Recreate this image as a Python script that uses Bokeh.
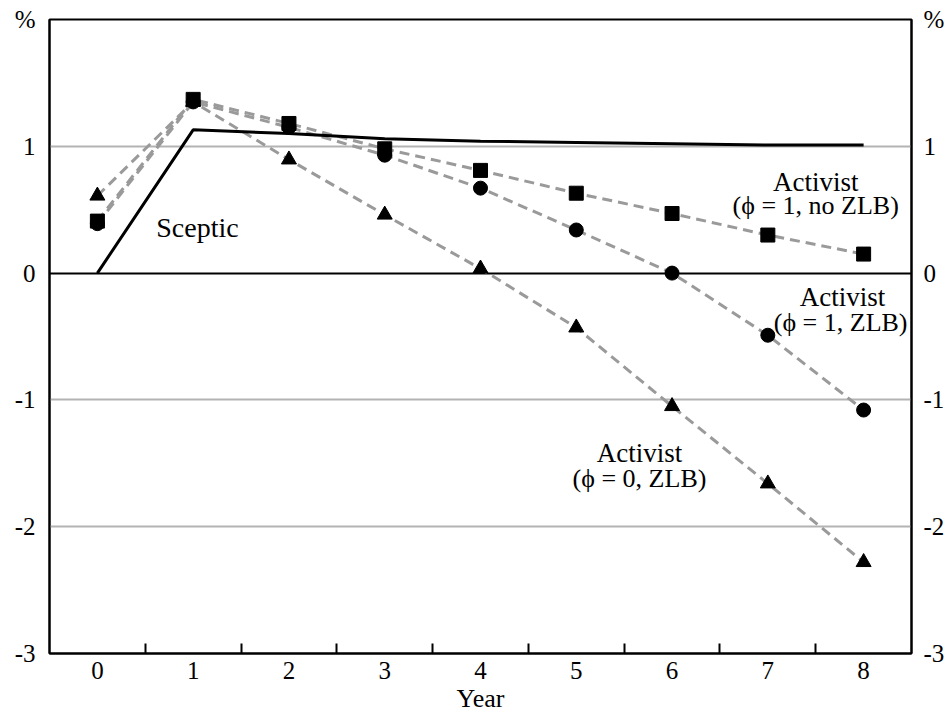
from bokeh.plotting import figure
from bokeh.models import (FixedTicker, LinearAxis, Grid, Label, Range1d)
from bokeh.embed import file_html
from bokeh.resources import INLINE

years = [0, 1, 2, 3, 4, 5, 6, 7, 8]
sceptic = [0.0, 1.13, 1.10, 1.06, 1.04, 1.03, 1.02, 1.01, 1.01]
activist_noZLB = [0.41, 1.37, 1.18, 0.98, 0.81, 0.63, 0.47, 0.30, 0.15]
activist_ZLB = [0.39, 1.35, 1.15, 0.93, 0.67, 0.34, 0.00, -0.49, -1.08]
activist_phi0 = [0.61, 1.35, 0.895, 0.46, 0.035, -0.43, -1.05, -1.66, -2.28]
y_ticks = [-3, -2, -1, 0, 1, 2]
y_tick_labels = ["-3", "-2", "-1", "0", "1", "%"]
x_ticks = [0, 1, 2, 3, 4, 5, 6, 7, 8]
x_minor = [0.5, 1.5, 2.5, 3.5, 4.5, 5.5, 6.5, 7.5]
x_title = "Year"

FONT = "Liberation Serif"

p = figure(width=947, height=715, output_backend="svg", toolbar_location=None,
           x_range=Range1d(-0.5, 8.5), y_range=Range1d(-3, 2),
           x_axis_location=None, y_axis_location=None,
           min_border_left=49, min_border_right=36, min_border_top=19,
           min_border_bottom=61)
p.outline_line_color = "black"
p.outline_line_width = 2
p.outline_line_alpha = 1
p.background_fill_color = "white"
p.border_fill_color = "white"
p.grid.visible = False

def style_y(ax, standoff):
    ax.ticker = FixedTicker(ticks=y_ticks)
    ax.major_label_overrides = {t: s for t, s in zip(y_ticks, y_tick_labels)}
    ax.major_tick_in = 0
    ax.major_tick_out = 0
    ax.minor_tick_in = 0
    ax.minor_tick_out = 0
    ax.axis_line_color = "black"
    ax.axis_line_width = 2
    ax.major_label_text_font = FONT
    ax.major_label_text_font_size = "25px"
    ax.major_label_text_color = "black"
    ax.major_label_standoff = standoff

yl = LinearAxis()
style_y(yl, 14)
p.add_layout(yl, "left")
yr = LinearAxis()
style_y(yr, 12)
p.add_layout(yr, "right")

xa = LinearAxis(axis_label=x_title)
xa.ticker = FixedTicker(ticks=x_ticks, minor_ticks=x_minor)
xa.major_tick_in = 0
xa.major_tick_out = 0
xa.minor_tick_in = 10
xa.minor_tick_out = 0
xa.minor_tick_line_color = "black"
xa.minor_tick_line_width = 2
xa.axis_line_color = "black"
xa.axis_line_width = 2
xa.major_label_text_font = FONT
xa.major_label_text_font_size = "25px"
xa.major_label_text_color = "black"
xa.major_label_standoff = 8
xa.axis_label_text_font = FONT
xa.axis_label_text_font_size = "26px"
xa.axis_label_text_font_style = "normal"
xa.axis_label_text_color = "black"
xa.axis_label_standoff = 2
p.add_layout(xa, "below")

g1 = Grid(dimension=1, ticker=FixedTicker(ticks=[-2, -1, 1]),
          grid_line_color="#b3b3b3", grid_line_width=2)
g0 = Grid(dimension=1, ticker=FixedTicker(ticks=[0]),
          grid_line_color="black", grid_line_width=2)
p.add_layout(g1)
p.add_layout(g0)

dash_col = "#9a9a9a"
for ys in (activist_noZLB, activist_ZLB, activist_phi0):
    p.line(years, ys, line_color=dash_col, line_width=3, line_dash="10 6")
p.line(years, sceptic, line_color="black", line_width=3)

p.scatter(years, activist_noZLB, marker="square", size=14, color="black")
p.scatter(years, activist_ZLB, marker="circle", size=14, color="black")
p.scatter(years, activist_phi0, marker="triangle", size=15, color="black")

def lab(x, y, t, align="center", size="26px"):
    p.add_layout(Label(x=x, y=y, text=t, text_font=FONT, text_font_size=size,
                       text_align=align, text_baseline="middle", text_color="black"))

lab(1.045, 0.36, "Sceptic", size="28px")
lab(7.5, 0.72, "Activist", size="27px")
lab(7.5, 0.53, "(ϕ = 1, no ZLB)")
lab(7.78, -0.19, "Activist", size="27px")
lab(7.76, -0.39, "(ϕ = 1, ZLB)")
lab(5.66, -1.42, "Activist", size="27px")
lab(5.66, -1.62, "(ϕ = 0, ZLB)")

open("out.html", "w").write(file_html(p, INLINE))
